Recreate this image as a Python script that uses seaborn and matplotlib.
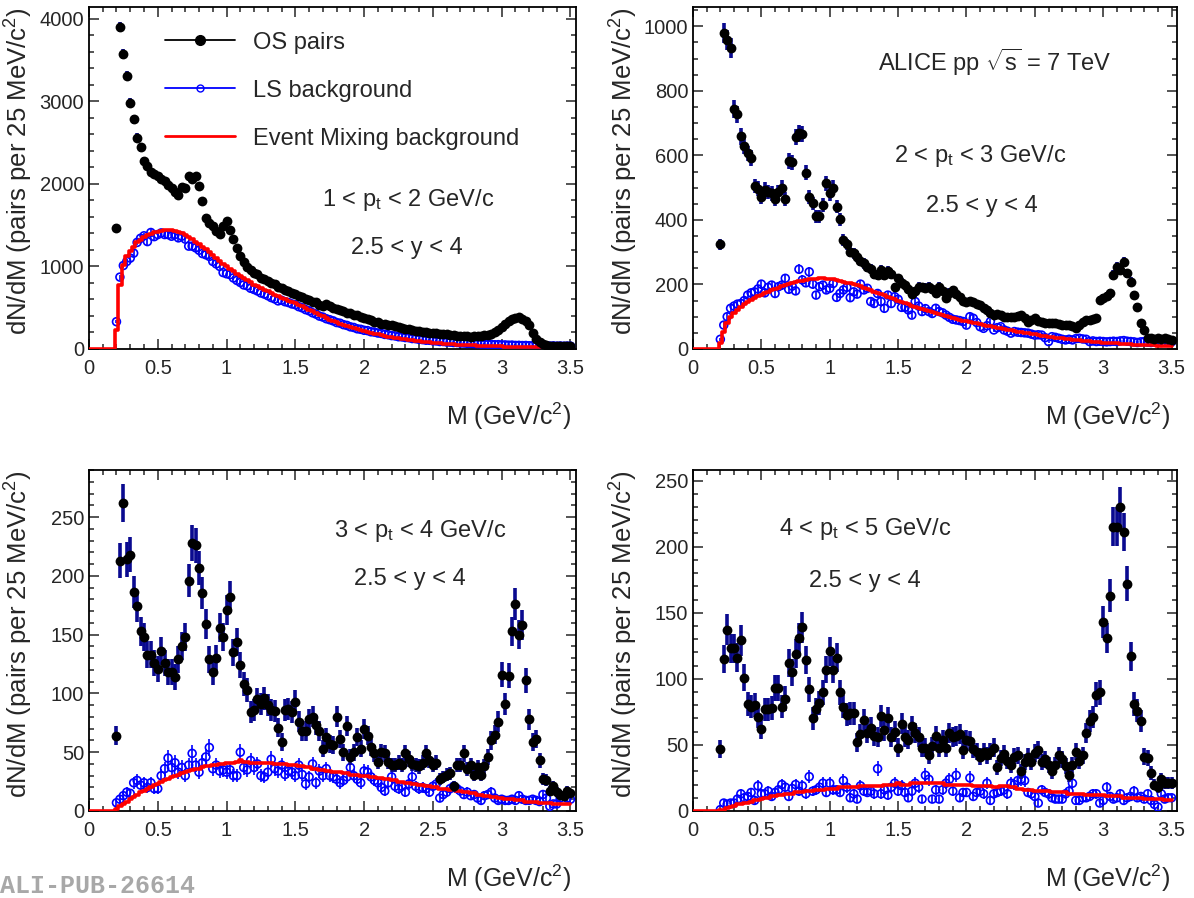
import numpy as np
import matplotlib
matplotlib.use("Agg")
import matplotlib.pyplot as plt
from matplotlib.lines import Line2D
from matplotlib.ticker import MultipleLocator, FormatStrFormatter
import seaborn as sns

# 25 MeV/c^2 bins, first filled bin centred at 0.2 GeV/c^2
mass = 0.2 + 0.025 * np.arange(133)
# the event-mixing histogram also shows the 8 empty bins below 0.2
mass_em = 0.025 * np.arange(141)
em_empty = [0] * 8

# ---- 1 < pt < 2 GeV/c ----
os_pt12 = [1470, 3900, 3570, 3310, 2980, 2780, 2560, 2440, 2280, 2220, 2140, 2120,
           2100, 2060, 2030, 1990, 1950, 1900, 1870, 1960, 1950, 2090, 2060, 2090,
           1970, 1790, 1590, 1530, 1490, 1430, 1390, 1490, 1550, 1440, 1330, 1220,
           1120, 1050, 990, 950, 915, 905, 865, 845, 825, 795, 785, 750,
           740, 712, 705, 676, 668, 640, 634, 606, 594, 572, 563, 538,
           522, 540, 526, 500, 486, 468, 460, 441, 434, 416, 412, 390,
           376, 358, 348, 332, 322, 308, 302, 292, 287, 273, 266, 252,
           247, 238, 232, 222, 218, 208, 206, 197, 196, 188, 186, 178,
           176, 168, 167, 162, 161, 153, 156, 148, 151, 153, 162, 168,
           172, 182, 200, 228, 262, 305, 340, 362, 380, 385, 368, 342,
           290, 190, 120, 80, 55, 45, 40, 40, 38, 36, 38, 35, 35]
ls_pt12 = [330, 870, 1010, 1060, 1100, 1160, 1290, 1340, 1370, 1300, 1410, 1360,
           1385, 1405, 1385, 1385, 1365, 1385, 1345, 1365, 1330, 1245, 1245, 1225,
           1195, 1155, 1140, 1120, 1060, 1030, 1000, 925, 910, 900, 860, 830,
           805, 775, 765, 735, 720, 702, 678, 664, 645, 622, 606, 582,
           590, 572, 562, 545, 536, 512, 498, 476, 462, 438, 422, 398,
           386, 366, 354, 340, 320, 312, 294, 285, 268, 260, 244, 238,
           226, 222, 208, 204, 193, 188, 176, 172, 162, 158, 148, 146,
           138, 136, 126, 124, 116, 113, 106, 105, 98, 97, 90, 90,
           84, 83, 78, 78, 72, 72, 67, 67, 63, 63, 59, 59,
           55, 55, 51, 52, 49, 49, 46, 47, 43, 44, 41, 42,
           39, 40, 38, 39, 36, 38, 35, 37, 34, 36, 33, 35, 34]
em_pt12 = em_empty + [
           230, 780, 1020, 1120, 1180, 1240, 1290, 1320, 1350, 1375, 1395, 1410,
           1420, 1430, 1440, 1445, 1440, 1430, 1415, 1400, 1380, 1355, 1330, 1300,
           1270, 1240, 1205, 1170, 1135, 1100, 1065, 1030, 1000, 970, 940, 910,
           880, 855, 830, 805, 780, 760, 740, 718, 697, 677, 657, 638,
           620, 603, 586, 570, 555, 535, 515, 495, 475, 455, 435, 415,
           395, 375, 355, 338, 322, 306, 292, 278, 264, 250, 238, 226,
           215, 205, 195, 185, 176, 167, 158, 150, 142, 135, 128, 121,
           115, 109, 103, 98, 93, 88, 84, 80, 76, 72, 68, 65,
           62, 59, 56, 53, 50, 48, 46, 44, 42, 40, 38, 36,
           35, 33, 32, 31, 30, 29, 28, 27, 26, 25, 24, 23,
           22, 22, 21, 21, 20, 20, 19, 19, 18, 18, 17, 17, 17]

# ---- 2 < pt < 3 GeV/c ----
os_pt23 = [324, 979, 957, 933, 743, 727, 659, 630, 606, 592, 505, 497,
           472, 494, 487, 482, 466, 487, 500, 464, 582, 578, 657, 668,
           666, 546, 472, 451, 412, 412, 446, 513, 482, 500, 441, 402,
           337, 324, 301, 296, 286, 273, 265, 255, 247, 232, 229, 245,
           229, 243, 232, 191, 219, 205, 198, 185, 170, 180, 193, 191,
           190, 193, 185, 172, 193, 180, 157, 175, 183, 170, 162, 150,
           147, 150, 147, 140, 136, 128, 121, 112, 105, 108, 105, 100,
           100, 98, 100, 103, 105, 95, 85, 90, 95, 88, 85, 82,
           79, 80, 79, 76, 74, 75, 74, 70, 64, 75, 85, 90,
           90, 92, 95, 152, 157, 165, 172, 229, 255, 245, 270, 234,
           208, 167, 131, 79, 59, 33, 33, 30, 33, 30, 33, 30, 28]
ls_pt23 = [30, 74, 100, 126, 133, 139, 141, 150, 167, 174, 177, 186,
           201, 174, 191, 198, 172, 193, 198, 219, 185, 195, 180, 247,
           214, 205, 239, 201, 167, 193, 198, 183, 188, 203, 160, 172,
           183, 191, 159, 177, 170, 201, 183, 188, 147, 141, 172, 147,
           126, 167, 141, 162, 154, 129, 129, 121, 105, 147, 133, 116,
           125, 116, 110, 126, 116, 112, 105, 98, 92, 90, 88, 85,
           74, 100, 95, 82, 69, 64, 72, 85, 59, 66, 69, 59,
           55, 49, 54, 52, 51, 50, 49, 46, 43, 44, 43, 35,
           23, 38, 36, 33, 30, 28, 30, 28, 32, 33, 31, 30,
           23, 25, 23, 24, 23, 22, 23, 24, 23, 25, 26, 24,
           23, 22, 20, 22, 23, 21, 20, 22, 23, 20, 21, 23, 22]
em_pt23 = em_empty + [
           18, 54, 80, 98, 110, 120, 130, 138, 146, 152, 158, 163,
           168, 173, 177, 182, 186, 190, 194, 198, 201, 204, 207, 210,
           212, 214, 216, 217, 218, 219, 219, 218, 217, 216, 214, 212,
           209, 206, 203, 200, 197, 194, 190, 186, 182, 178, 174, 170,
           166, 162, 158, 154, 150, 146, 142, 138, 134, 131, 128, 125,
           122, 118, 115, 112, 109, 106, 103, 100, 97, 94, 91, 88,
           86, 84, 82, 79, 77, 74, 72, 70, 68, 66, 64, 62,
           60, 58, 56, 54, 52, 50, 48, 46, 45, 43, 41, 40,
           38, 37, 35, 34, 33, 31, 30, 29, 28, 27, 26, 25,
           24, 23, 22, 21, 20, 19, 18, 17, 17, 16, 15, 15,
           14, 13, 13, 12, 12, 11, 11, 11, 10, 10, 10, 9, 9]

# ---- 3 < pt < 4 GeV/c ----
os_pt34 = [64, 213, 262, 214, 218, 186, 174, 153, 148, 133, 133, 126,
           121, 136, 126, 118, 118, 114, 129, 140, 148, 196, 228, 226,
           207, 185, 159, 129, 118, 130, 156, 148, 171, 182, 135, 144,
           124, 108, 103, 84, 86, 95, 91, 96, 90, 86, 85, 71,
           59, 86, 87, 84, 93, 76, 68, 68, 78, 80, 73, 68,
           53, 63, 57, 56, 80, 61, 50, 72, 46, 50, 63, 53,
           70, 64, 54, 49, 42, 50, 49, 42, 39, 39, 41, 39,
           49, 44, 40, 39, 38, 41, 49, 43, 39, 41, 27, 29,
           31, 32, 21, 39, 39, 49, 36, 39, 31, 37, 31, 38,
           46, 60, 65, 76, 116, 91, 115, 153, 176, 150, 158, 111,
           78, 59, 61, 43, 27, 26, 17, 21, 16, 14, 13, 17, 15]
ls_pt34 = [7, 10, 13, 16, 15, 24, 26, 22, 24, 20, 24, 19,
           19, 30, 36, 45, 37, 41, 33, 37, 30, 39, 49, 39,
           33, 41, 46, 54, 36, 39, 34, 35, 33, 35, 30, 30,
           50, 37, 35, 43, 37, 40, 30, 29, 33, 44, 36, 34,
           39, 31, 34, 33, 30, 39, 31, 23, 29, 40, 24, 34,
           30, 36, 30, 29, 27, 24, 26, 29, 37, 30, 27, 24,
           34, 33, 29, 26, 24, 20, 17, 24, 29, 21, 19, 21,
           16, 23, 29, 21, 19, 20, 19, 16, 21, 23, 11, 14,
           16, 19, 21, 19, 17, 14, 16, 13, 14, 11, 9, 13,
           14, 16, 11, 9, 10, 9, 9, 10, 9, 13, 10, 9,
           9, 10, 9, 8, 14, 11, 4, 6, 6, 11, 13, 11, 10]
em_pt34 = em_empty + [
           2, 4, 6, 8, 10, 12, 14, 16, 17, 19, 20, 22,
           23, 25, 26, 27, 29, 30, 31, 32, 33, 34, 35, 36,
           36, 37, 38, 38, 39, 39, 40, 40, 41, 41, 41, 42,
           43, 42, 42, 41, 41, 41, 41, 41, 41, 41, 40, 40,
           40, 40, 39, 39, 39, 38, 38, 37, 37, 36, 36, 35,
           35, 34, 34, 33, 33, 33, 32, 32, 31, 31, 31, 30,
           30, 30, 29, 29, 28, 28, 27, 27, 26, 26, 25, 25,
           24, 24, 23, 23, 22, 22, 21, 21, 20, 20, 19, 19,
           19, 18, 18, 17, 17, 16, 16, 15, 15, 14, 14, 13,
           13, 12, 12, 11, 11, 10, 10, 10, 9, 9, 9, 8,
           8, 8, 8, 7, 7, 7, 7, 6, 6, 6, 6, 6, 6]

# ---- 4 < pt < 5 GeV/c ----
os_pt45 = [47, 115, 137, 123, 123, 116, 129, 101, 81, 79, 80, 71,
           62, 77, 77, 78, 93, 93, 79, 85, 112, 105, 119, 131,
           139, 114, 92, 70, 77, 82, 90, 107, 121, 107, 116, 90,
           79, 73, 74, 74, 52, 58, 69, 59, 63, 57, 56, 72,
           61, 70, 56, 60, 48, 66, 56, 54, 64, 59, 56, 48,
           48, 42, 49, 57, 48, 54, 48, 59, 56, 57, 58, 46,
           54, 53, 47, 45, 41, 45, 42, 45, 48, 33, 40, 43,
           38, 35, 41, 42, 30, 37, 41, 37, 44, 46, 37, 39,
           35, 30, 35, 42, 39, 34, 27, 35, 45, 38, 42, 59,
           68, 71, 88, 90, 143, 131, 163, 215, 215, 230, 211, 172,
           117, 81, 76, 68, 41, 40, 29, 20, 18, 24, 21, 21, 21]
ls_pt45 = [1, 6, 5, 6, 6, 9, 13, 10, 11, 14, 8, 19,
           13, 13, 15, 11, 14, 16, 20, 18, 11, 17, 20, 15,
           19, 13, 26, 15, 16, 18, 21, 14, 21, 16, 16, 14,
           23, 18, 10, 13, 9, 19, 15, 14, 15, 13, 32, 13,
           16, 12, 18, 21, 15, 19, 14, 10, 15, 21, 18, 9,
           27, 24, 9, 16, 9, 16, 21, 24, 15, 27, 10, 14,
           14, 25, 11, 14, 15, 13, 21, 8, 13, 14, 15, 16,
           13, 21, 20, 23, 24, 23, 14, 13, 11, 6, 16, 14,
           13, 10, 9, 9, 9, 13, 15, 21, 8, 8, 10, 10,
           11, 13, 13, 6, 8, 18, 11, 9, 10, 13, 8, 10,
           11, 15, 10, 11, 9, 13, 8, 5, 3, 13, 9, 10, 10]
em_pt45 = em_empty + [
           1, 1, 2, 3, 4, 5, 5, 6, 6, 7, 8, 8,
           9, 10, 10, 11, 11, 12, 12, 13, 13, 13, 14, 14,
           14, 15, 15, 15, 16, 16, 16, 17, 17, 17, 17, 18,
           18, 18, 18, 18, 18, 19, 19, 19, 19, 19, 19, 19,
           20, 20, 20, 20, 21, 20, 20, 20, 21, 21, 21, 21,
           21, 21, 21, 21, 21, 21, 20, 20, 20, 20, 20, 20,
           20, 20, 19, 19, 19, 19, 19, 19, 18, 18, 19, 19,
           19, 18, 18, 17, 17, 16, 16, 16, 15, 15, 15, 15,
           15, 14, 14, 14, 14, 14, 13, 13, 13, 13, 13, 12,
           12, 12, 12, 12, 12, 11, 11, 11, 11, 11, 10, 10,
           10, 10, 10, 10, 9, 9, 9, 9, 9, 9, 8, 8, 8]

pt_labels = ["1 < p$_{\\mathrm{t}}$ < 2 GeV/c", "2 < p$_{\\mathrm{t}}$ < 3 GeV/c",
             "3 < p$_{\\mathrm{t}}$ < 4 GeV/c", "4 < p$_{\\mathrm{t}}$ < 5 GeV/c"]
y_label = "2.5 < y < 4"

sns.set_style("ticks")
plt.rcParams["font.family"] = ["Liberation Sans", "DejaVu Sans"]
plt.rcParams["mathtext.fontset"] = "custom"
plt.rcParams["mathtext.rm"] = "Liberation Sans"
plt.rcParams["mathtext.it"] = "Liberation Sans:italic"
plt.rcParams["mathtext.bf"] = "Liberation Sans:bold"

fig = plt.figure(figsize=(11.94, 8.98), dpi=100, facecolor="white")

# axes rectangles (ROOT canvas divided 2x2)
rects = [[0.0745, 0.6114, 0.4079, 0.3808], [0.5804, 0.6114, 0.4054, 0.3808],
         [0.0745, 0.0969, 0.4079, 0.3797], [0.5804, 0.0969, 0.4054, 0.3797]]
panels = [
    (os_pt12, ls_pt12, em_pt12, 4140, 1000, 200),
    (os_pt23, ls_pt23, em_pt23, 1060, 200, 50),
    (os_pt34, ls_pt34, em_pt34, 290, 50, 10),
    (os_pt45, ls_pt45, em_pt45, 258, 50, 10),
]
# text positions in axes fraction: (pt label, rapidity label)
text_pos = [((0.656, 0.436), (0.653, 0.295)),
            ((0.594, 0.565), (0.597, 0.418)),
            ((0.680, 0.822), (0.659, 0.680)),
            ((0.355, 0.828), (0.355, 0.675))]

axes = []
for i, (os_v, ls_v, em_v, ymax, major, minor) in enumerate(panels):
    ax = fig.add_axes(rects[i])
    axes.append(ax)
    os_v = np.array(os_v, dtype=float)
    ls_v = np.array(ls_v, dtype=float)

    # like-sign points with error bars
    ax.errorbar(mass, ls_v, yerr=np.sqrt(ls_v), fmt="none", ecolor="blue",
                elinewidth=1.2, capsize=0, zorder=2)
    sns.scatterplot(x=mass, y=ls_v, ax=ax, s=32, color="blue", marker="o",
                    linewidth=1.2, zorder=3, legend=False)
    pc = ax.collections[-1]
    pc.set_facecolor("none")
    pc.set_edgecolor("blue")

    # event mixing histogram
    sns.lineplot(x=mass_em, y=em_v, ax=ax, color="red", linewidth=2.6,
                 drawstyle="steps-mid", estimator=None, zorder=4)

    # opposite sign points
    ax.errorbar(mass, os_v, yerr=np.sqrt(os_v), fmt="none", ecolor="#0a0a90",
                elinewidth=2.6, capsize=0, zorder=5)
    sns.scatterplot(x=mass, y=os_v, ax=ax, s=50, color="black", marker="o",
                    linewidth=0, zorder=6, legend=False)

    ax.set_xlim(0, 3.54)
    ax.set_ylim(0, ymax)
    ax.xaxis.set_major_locator(MultipleLocator(0.5))
    ax.xaxis.set_minor_locator(MultipleLocator(0.1))
    ax.xaxis.set_major_formatter(FormatStrFormatter("%g"))
    ax.yaxis.set_major_locator(MultipleLocator(major))
    ax.yaxis.set_minor_locator(MultipleLocator(minor))
    ax.tick_params(which="both", direction="in", top=True, right=True,
                   labelsize=14.5, width=1.1)
    ax.tick_params(which="major", length=7)
    ax.tick_params(which="minor", length=3.5)
    ax.tick_params(axis="x", pad=7)
    for sp in ax.spines.values():
        sp.set_linewidth(1.3)
        sp.set_color("black")

    ax.set_xlabel("M (GeV/c$^{2}$)", fontsize=18, ha="right")
    ax.xaxis.set_label_coords(0.99 if i % 2 == 0 else 0.985, -0.15)
    ax.set_ylabel("dN/dM (pairs per 25 MeV/c$^{2}$)", fontsize=18.5, ha="right")
    ax.yaxis.set_label_coords(-0.11, 1.0)

    (px, py), (rx, ry) = text_pos[i]
    ax.text(px, py, pt_labels[i], transform=ax.transAxes, fontsize=17,
            ha="center", va="center")
    ax.text(rx, ry, y_label, transform=ax.transAxes, fontsize=17,
            ha="center", va="center")

axes[1].text(0.624, 0.839, "ALICE pp $\\sqrt{\\mathrm{s}}$ = 7 TeV",
             transform=axes[1].transAxes, fontsize=17, ha="center", va="center")

handles = [
    Line2D([], [], color="black", marker="o", markersize=7, linewidth=1.3),
    Line2D([], [], color="blue", marker="o", markersize=5, markerfacecolor="none",
           linewidth=1.3),
    Line2D([], [], color="red", linewidth=2.0),
]
axes[0].legend(handles, ["OS pairs", "LS background", "Event Mixing background"],
               loc="upper left", bbox_to_anchor=(0.113, 0.99), frameon=False,
               fontsize=17, handlelength=2.97, handletextpad=0.76,
               labelspacing=1.1)

fig.text(0.0, 0.0, "ALI-PUB-26614", fontsize=18, family="Liberation Mono",
         weight="bold", color="#a8a8a8", ha="left", va="bottom")

fig.savefig("out.png", dpi=100, facecolor="white")
